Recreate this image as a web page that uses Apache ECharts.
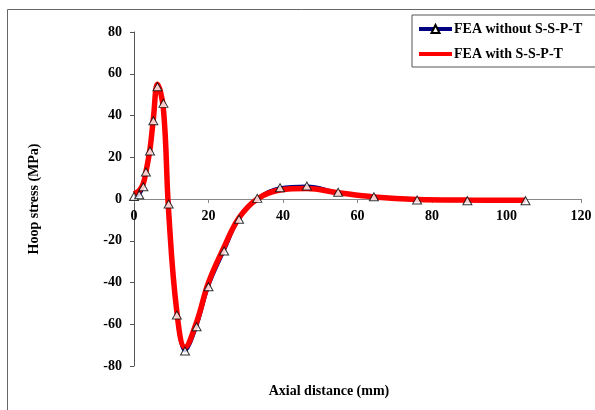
<!DOCTYPE html>
<html>
<head>
<meta charset="utf-8">
<script src="https://cdn.jsdelivr.net/npm/echarts@6/dist/echarts.min.js"></script>
<style>html,body{margin:0;padding:0;background:#fff}#c{width:595px;height:410px}</style>
</head>
<body>
<div id="c"></div>
<script>
var xWithout = [0, 1.4, 2.5, 3.2, 4.3, 5.2, 6.3, 7.9, 9.3, 11.5, 13.7, 16.8, 20, 24.2, 28.2, 33.1, 39.2, 46.4, 54.8, 64.4, 76, 89.5, 105.1];
var yWithout = [1.2, 2, 5.9, 12.9, 23, 37.5, 53.8, 45.8, -2.4, -55.6, -72.8, -61.2, -42, -24.9, -9.7, 0.3, 5.4, 6.2, 3.2, 1.1, -0.5, -0.8, -0.8];
var xWith = [0, 1.4, 2.5, 3.2, 4.3, 5.2, 6.3, 7.9, 9.3, 11.5, 13.7, 16.8, 20, 24.2, 28.2, 33.1, 39.2, 46.4, 54.8, 64.4, 76, 89.5, 105.1];
var yWith = [2.5, 4, 7.5, 13, 24, 38.5, 55, 43, -6, -54, -71, -59, -40, -23, -9, 0, 4.3, 5, 3, 1, -0.2, -0.5, -0.6];
var xTicks = [0, 20, 40, 60, 80, 100, 120];
var yTicks = [-80, -60, -40, -20, 0, 20, 40, 60, 80];
var names = ['FEA without S-S-P-T', 'FEA with S-S-P-T'];
var xTitle = 'Axial distance (mm)';
var yTitle = 'Hoop stress (MPa)';

function pairs(xs, ys) { return xs.map(function (x, i) { return [x, ys[i]]; }); }

var font = 'Liberation Serif';
var gridTop = 32, gridBottom = 44, H = 410;
var chart = echarts.init(document.getElementById('c'), null, {renderer: 'canvas'});
chart.setOption({
  animation: false,
  backgroundColor: '#fff',
  grid: {left: 134, right: 14, top: gridTop, bottom: gridBottom, containLabel: false},
  xAxis: {
    type: 'value', min: xTicks[0], max: xTicks[xTicks.length - 1], interval: 20,
    position: 'bottom',
    offset: -(H - gridTop - gridBottom) / 2,
    axisLine: {onZero: false, lineStyle: {color: '#888', width: 1}},
    axisTick: {length: 4, lineStyle: {color: '#888'}},
    axisLabel: {fontFamily: font, fontWeight: 'bold', fontSize: 14, color: '#000', margin: 10},
    splitLine: {show: false}
  },
  yAxis: {
    type: 'value', min: yTicks[0], max: yTicks[yTicks.length - 1], interval: 20,
    name: yTitle, nameLocation: 'middle', nameGap: 93, nameRotate: 90,
    nameTextStyle: {fontFamily: font, fontWeight: 'bold', fontSize: 14, color: '#000'},
    axisLine: {onZero: false, lineStyle: {color: '#555', width: 1}},
    axisTick: {length: 4, lineStyle: {color: '#555'}},
    axisLabel: {fontFamily: font, fontWeight: 'bold', fontSize: 14, color: '#000', margin: 12},
    splitLine: {show: false}
  },
  legend: {
    data: [
      {name: names[0], lineStyle: {width: 4}},
      {name: names[1], lineStyle: {width: 4}, itemStyle: {color: 'rgba(0,0,0,0)', borderWidth: 0, opacity: 0}}
    ],
    orient: 'vertical', left: 412, top: 15,
    padding: [7, 20, 6, 5],
    itemWidth: 33, itemHeight: 10, itemGap: 11,
    borderColor: '#555', borderWidth: 1,
    textStyle: {fontFamily: font, fontWeight: 'bold', fontSize: 14, color: '#000', padding: [0, 0, 0, -3]}
  },
  graphic: [
    {type: 'line', shape: {x1: 7.5, y1: 9.5, x2: 595, y2: 9.5}, style: {stroke: '#666', lineWidth: 1}},
    {type: 'line', shape: {x1: 7.5, y1: 9.5, x2: 7.5, y2: 410}, style: {stroke: '#666', lineWidth: 1}},
    {type: 'text', x: 329, y: 391, style: {text: xTitle, font: 'bold 14px "Liberation Serif"', fill: '#000', align: 'center', verticalAlign: 'middle'}}
  ],
  series: [
    {
      name: names[0], type: 'line', data: pairs(xWithout, yWithout), smooth: 0.4, z: 1,
      symbol: 'triangle', symbolSize: [9, 8], showSymbol: false,
      lineStyle: {color: '#000080', width: 3},
      itemStyle: {color: '#fff', borderColor: '#000', borderWidth: 1}
    },
    {
      name: names[1], type: 'line', data: pairs(xWith, yWith), smooth: 0.4, z: 2,
      symbol: 'none',
      lineStyle: {color: '#ff0000', width: 5.5},
      itemStyle: {color: '#ff0000'}
    },
    {
      type: 'scatter', data: pairs(xWithout, yWithout), z: 3,
      symbol: 'triangle', symbolSize: [9, 8],
      itemStyle: {color: '#fff', borderColor: '#000', borderWidth: 1}
    }
  ]
});
</script>
</body>
</html>
